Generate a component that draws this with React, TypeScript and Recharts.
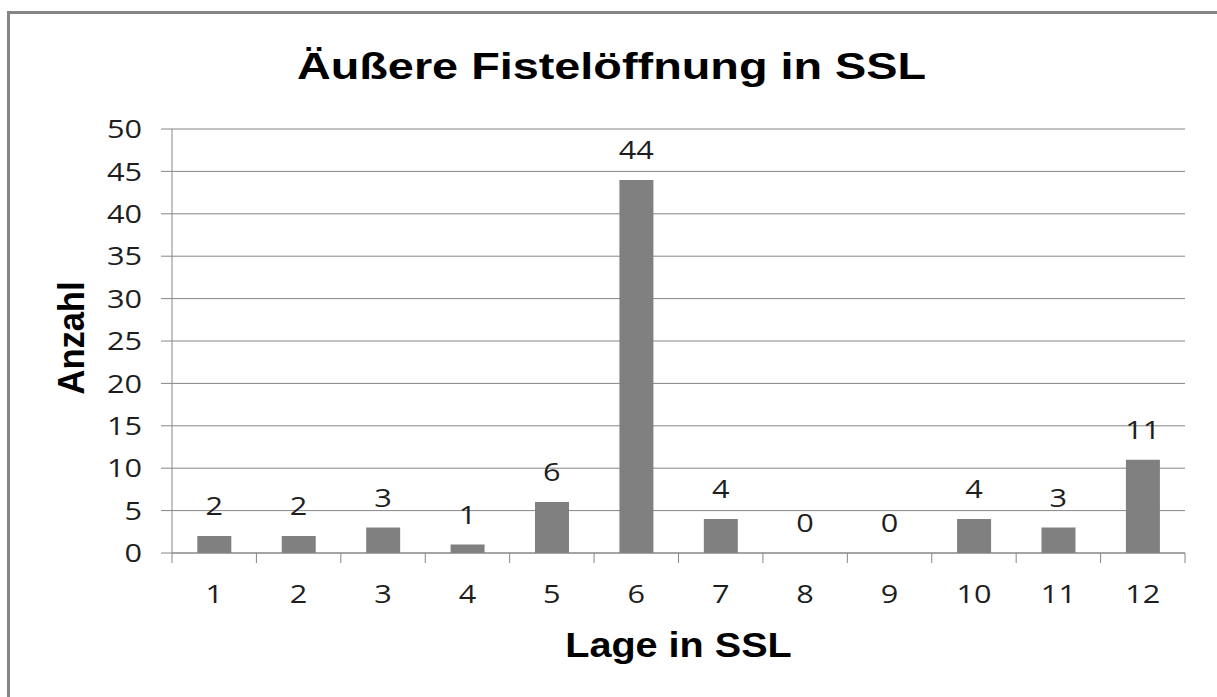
import React from "react";
import { ComposedChart, Bar, Line, XAxis, YAxis, CartesianGrid, LabelList } from "recharts";

const categories = ["1", "2", "3", "4", "5", "6", "7", "8", "9", "10", "11", "12"];
const counts = [2, 2, 3, 1, 6, 44, 4, 0, 0, 4, 3, 11];
const yTicks = [0, 5, 10, 15, 20, 25, 30, 35, 40, 45, 50];
const title = "Äußere Fistelöffnung in SSL";
const xTitle = "Lage in SSL";
const yTitle = "Anzahl";

const data = categories.map((c, i) => ({ name: c, value: counts[i] }));

const GRAY = "#868686";
const TEXT = "#1e1e1e";
const NUM_FONT = "'Open Sans', sans-serif";
const TITLE_FONT = "'Liberation Sans', Arial, sans-serif";

const XTick = (props: any) => {
  const { x, y, payload, index } = props;
  const off = payload && payload.offset ? payload.offset : 1013 / 24;
  const y0 = y - 32;
  return (
    <g>
      <line x1={x - off} x2={x - off} y1={y0} y2={y0 + 10} stroke={GRAY} strokeWidth={1} />
      {index === categories.length - 1 && (
        <line x1={x + off} x2={x + off} y1={y0} y2={y0 + 10} stroke={GRAY} strokeWidth={1} />
      )}
      <g transform={`translate(${x},${y}) scale(1.18,1)`}>
        <text x={0} y={0} dy="0.71em" textAnchor="middle" fontFamily={NUM_FONT} fontSize={26} fill={TEXT}>
          {payload.value}
        </text>
      </g>
    </g>
  );
};

const YTick = (props: any) => {
  const { x, y, payload } = props;
  return (
    <g transform={`translate(${x},${y}) scale(1.18,1)`}>
      <text x={0} y={0} dy="0.355em" textAnchor="end" fontFamily={NUM_FONT} fontSize={26} fill={TEXT}>
        {payload.value}
      </text>
    </g>
  );
};

const PointLabel = (props: any) => {
  const { x, y, width, value } = props;
  const cx = width ? x + width / 2 : x;
  return (
    <g transform={`translate(${cx},${y - 21}) scale(1.18,1)`}>
      <text x={0} y={0} textAnchor="middle" fontFamily={NUM_FONT} fontSize={26} fill={TEXT}>
        {value}
      </text>
    </g>
  );
};

export default function App() {
  return (
    <div style={{ position: "absolute", left: 0, top: 0, width: 1217, height: 697, background: "#fff", overflow: "hidden" }}>
      <div
        style={{
          position: "absolute",
          left: 7,
          top: 11,
          width: 1217,
          height: 697,
          borderLeft: "3px solid #858585",
          borderTop: "3px solid #858585",
        }}
      />
      <svg style={{ position: "absolute", left: 0, top: 0 }} width={1217} height={110}>
        <g transform="translate(611.5,79) scale(1.3,1)">
          <text
            x={0}
            y={0}
            textAnchor="middle"
            fontFamily={TITLE_FONT}
            fontWeight="bold"
            fontSize={36}
            fill="#000"
          >
            {title}
          </text>
        </g>
      </svg>
      <div style={{ position: "absolute", left: 0, top: 0 }}>
        <ComposedChart
          width={1217}
          height={697}
          data={data}
          margin={{ top: 129, right: 32, bottom: 84, left: 0 }}
          barCategoryGap="30%"
        >
          <CartesianGrid vertical={false} stroke={GRAY} strokeWidth={1} />
          <XAxis
            dataKey="name"
            height={60}
            tickSize={10}
            tickMargin={22}
            tickLine={false}
            axisLine={{ stroke: GRAY, strokeWidth: 1 }}
            tick={<XTick />}
            interval={0}
            label={{
              content: (p: any) => {
                const vb = p.viewBox || { x: 172, width: 1013, y: 553 };
                return (
                  <g transform={`translate(${vb.x + vb.width / 2},657) scale(1.1,1)`}>
                    <text
                      x={0}
                      y={0}
                      textAnchor="middle"
                      fontFamily={TITLE_FONT}
                      fontWeight="bold"
                      fontSize={36}
                      fill="#000"
                    >
                      {xTitle}
                    </text>
                  </g>
                );
              },
            }}
          />
          <YAxis
            width={172}
            domain={[0, 50]}
            ticks={yTicks}
            interval={0}
            tickSize={11}
            tickMargin={19}
            tickLine={{ stroke: GRAY, strokeWidth: 1 }}
            axisLine={{ stroke: GRAY, strokeWidth: 1 }}
            tick={<YTick />}
            label={{
              content: (p: any) => {
                const vb = p.viewBox || { x: 0, y: 129, height: 424 };
                const cy = vb.y + vb.height / 2 - 3;
                return (
                  <text
                    x={0}
                    y={0}
                    transform={`translate(84,${cy}) rotate(-90)`}
                    textAnchor="middle"
                    fontFamily={TITLE_FONT}
                    fontWeight="bold"
                    fontSize={37}
                    textLength={113}
                    lengthAdjust="spacingAndGlyphs"
                    fill="#000"
                  >
                    {yTitle}
                  </text>
                );
              },
            }}
          />
          <Bar dataKey="value" fill="#808080" isAnimationActive={false} />
          <Line
            dataKey="value"
            stroke="none"
            dot={false}
            activeDot={false}
            legendType="none"
            isAnimationActive={false}
          >
            <LabelList dataKey="value" content={<PointLabel />} />
          </Line>
        </ComposedChart>
      </div>
    </div>
  );
}
